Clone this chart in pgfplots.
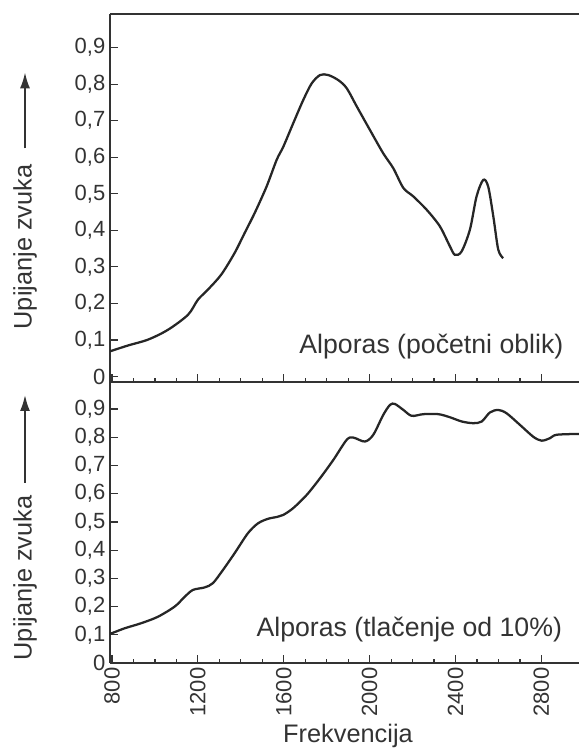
\documentclass[border=0pt]{standalone}
\usepackage{pgfplots}
\pgfplotsset{compat=1.18}
\usepackage{fontspec}
\setmainfont{Liberation Sans}
\usetikzlibrary{arrows.meta}

\pgfplotstableread{
f v
791 0.069
875 0.085
968 0.101
1061 0.128
1154 0.169
1200 0.210
1247 0.238
1309 0.279
1371 0.338
1418 0.393
1465 0.448
1520 0.520
1567 0.593
1598 0.629
1644 0.693
1691 0.757
1730 0.802
1769 0.825
1807 0.825
1854 0.811
1893 0.789
1940 0.739
2001 0.675
2063 0.611
2110 0.570
2157 0.516
2203 0.493
2266 0.456
2327 0.411
2374 0.356
2397 0.333
2428 0.342
2467 0.402
2498 0.493
2529 0.538
2552 0.520
2576 0.438
2599 0.347
2622 0.324
}\topdata

\pgfplotstableread{
f v
791 0.103
859 0.123
936 0.141
1014 0.164
1092 0.200
1139 0.235
1177 0.259
1232 0.268
1270 0.283
1317 0.330
1371 0.389
1433 0.460
1480 0.495
1526 0.511
1570 0.518
1598 0.525
1644 0.549
1707 0.596
1769 0.655
1831 0.720
1893 0.791
1924 0.799
1978 0.785
2017 0.809
2063 0.879
2095 0.915
2118 0.918
2157 0.897
2196 0.876
2250 0.882
2320 0.882
2374 0.871
2429 0.856
2483 0.850
2522 0.856
2560 0.888
2599 0.897
2638 0.885
2700 0.844
2762 0.802
2801 0.788
2840 0.797
2871 0.809
2975 0.812
}\botdata

\pgfplotsset{
  panel/.style={
    scale only axis, width=351.75pt,
    xmin=790.7, xmax=2975,
    axis lines=left, axis line style={-, line width=1pt, black!80},
    tick align=inside, tick style={black!80, line width=0.9pt},
    major tick length=6pt, minor tick length=3pt,
    xtick={800,1200,1600,2000,2400,2800}, minor x tick num=3,
    ytick={0,0.1,0.2,0.3,0.4,0.5,0.6,0.7,0.8,0.9},
    /pgf/number format/assume math mode=true,
    /pgf/number format/1000 sep={},
    yticklabel style={font=\fontsize{16.5}{18}\selectfont, text=black!80,
      /pgf/number format/use comma, /pgf/number format/fixed,
      /pgf/number format/precision=1},
    xticklabel style={font=\fontsize{16.5}{18}\selectfont, text=black!80, rotate=90, anchor=east},
  }
}

\begin{document}
\begin{tikzpicture}
\useasboundingbox (0,0) rectangle (434.25pt,563.25pt);
\begin{axis}[panel, at={(82.5pt,276.75pt)}, anchor=south west,
  height=276pt, ymin=-0.015, ymax=0.992, xticklabels={}]
  \addplot[line width=1.7pt, black!85, smooth, tension=0.5] table[x=f, y=v] {\topdata};
  \draw[line width=1pt, black!80] (rel axis cs:0,1) -- (rel axis cs:1,1);
\end{axis}
\begin{axis}[panel, at={(82.5pt,66pt)}, anchor=south west,
  height=210.75pt, ymin=0, ymax=0.996]
  \addplot[line width=1.7pt, black!85, smooth, tension=0.5] table[x=f, y=v] {\botdata};
\end{axis}
\node[anchor=base east, font=\fontsize{20}{24}\selectfont, text=black!80] at (426pt,298.3pt) {Alporas (početni oblik)};
\node[anchor=base east, font=\fontsize{20}{24}\selectfont, text=black!80] at (425pt,85.7pt) {Alporas (tlačenje od 10\%)};
\node[rotate=90, font=\fontsize{19}{22}\selectfont, text=black!80] at (18.75pt,378pt) {Upijanje zvuka};
\draw[line width=1.4pt, black!80, -{Latex[length=12pt,width=7.5pt]}] (18.75pt,452pt) -- (18.75pt,509pt);
\node[rotate=90, font=\fontsize{19}{22}\selectfont, text=black!80] at (18.75pt,129.75pt) {Upijanje zvuka};
\draw[line width=1.4pt, black!80, -{Latex[length=12pt,width=7.5pt]}] (18.75pt,201pt) -- (18.75pt,267pt);
\node[font=\fontsize{19}{22}\selectfont, text=black!80] at (261pt,11.25pt) {Frekvencija};
\end{tikzpicture}
\end{document}
